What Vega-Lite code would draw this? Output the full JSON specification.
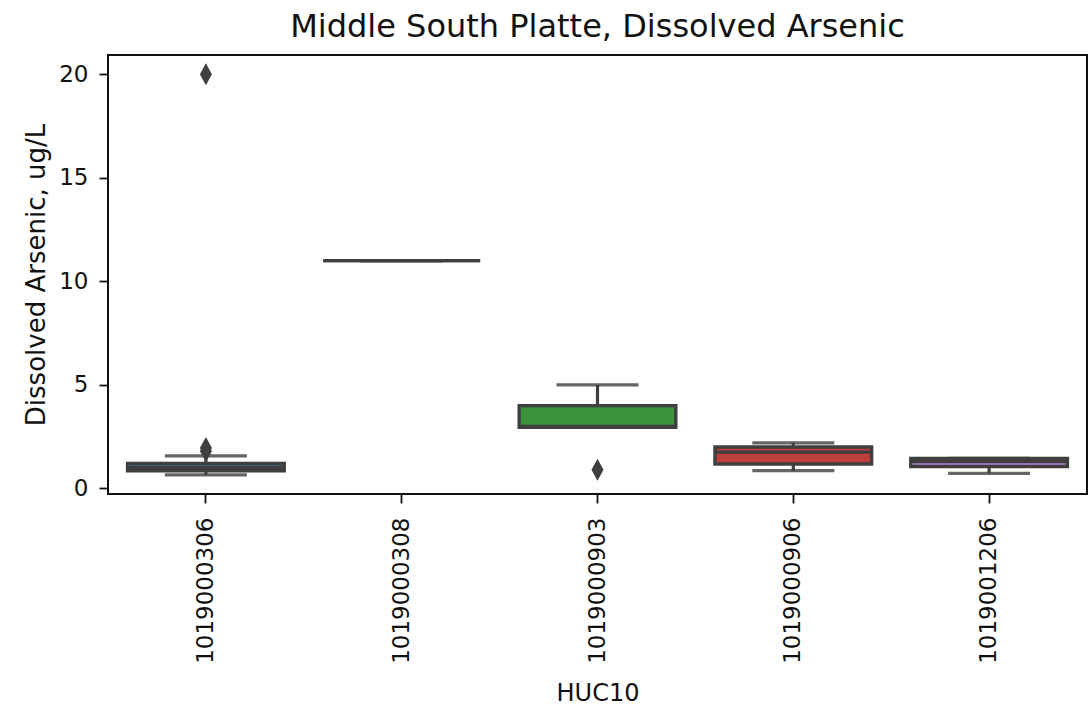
{
  "$schema": "https://vega.github.io/schema/vega-lite/v6.json",
  "autosize": {"type": "none"},
  "width": 979,
  "height": 439,
  "padding": {"left": 108, "top": 55, "right": 1, "bottom": 229},
  "background": "white",
  "config": {
    "font": "DejaVu Sans",
    "view": {"stroke": "#111111", "strokeWidth": 2},
    "axis": {"grid": false, "domain": false, "tickColor": "#111111", "tickWidth": 1.8, "labelColor": "#111111", "titleColor": "#111111", "labelFont": "DejaVu Sans", "titleFont": "DejaVu Sans", "titleFontWeight": "normal"}
  },
  "title": {"text": "Middle South Platte, Dissolved Arsenic", "fontSize": 32, "fontWeight": "normal", "font": "DejaVu Sans", "color": "#111111", "offset": 11, "anchor": "middle"},
  "datasets": {
    "stats": [
      {"HUC10": "1019000306", "lower": 0.65, "q1": 0.85, "median": 1.0, "q3": 1.2, "upper": 1.57},
      {"HUC10": "1019000308", "lower": 11.0, "q1": 11.0, "median": 11.0, "q3": 11.0, "upper": 11.0},
      {"HUC10": "1019000903", "lower": 2.95, "q1": 2.95, "median": 3.0, "q3": 4.0, "upper": 5.0},
      {"HUC10": "1019000906", "lower": 0.86, "q1": 1.18, "median": 1.75, "q3": 2.0, "upper": 2.2},
      {"HUC10": "1019001206", "lower": 0.73, "q1": 1.05, "median": 1.3, "q3": 1.45, "upper": 1.45}
    ],
    "outliers": [
      {"HUC10": "1019000306", "value": 20.0},
      {"HUC10": "1019000306", "value": 1.8},
      {"HUC10": "1019000306", "value": 1.95},
      {"HUC10": "1019000903", "value": 0.9}
    ]
  },
  "encoding": {
    "x": {"field": "HUC10", "type": "nominal", "sort": ["1019000306", "1019000308", "1019000903", "1019000906", "1019001206"],
      "scale": {"type": "band", "paddingInner": 0, "paddingOuter": 0},
      "axis": {"title": "HUC10", "titleFontSize": 24, "labelFontSize": 23, "labelAngle": 270, "tickSize": 9, "labelPadding": 14, "titlePadding": 18}}
  },
  "layer": [
    {
      "data": {"name": "stats"},
      "mark": {"type": "rule", "color": "#3f3f3f", "strokeWidth": 3.2},
      "encoding": {
        "y": {"field": "lower", "type": "quantitative", "scale": {"domain": [-0.27, 20.93], "nice": false, "zero": false},
          "axis": {"title": "Dissolved Arsenic, ug/L", "titleFontSize": 26, "labelFontSize": 23, "values": [0, 5, 10, 15, 20], "tickSize": 9, "labelPadding": 11, "titlePadding": 9}},
        "y2": {"field": "upper"}
      }
    },
    {
      "data": {"name": "stats"},
      "mark": {"type": "tick", "color": "#3f3f3f", "thickness": 3.2, "size": 82, "opacity": 0.8},
      "encoding": {"y": {"field": "lower", "type": "quantitative"}}
    },
    {
      "data": {"name": "stats"},
      "mark": {"type": "tick", "color": "#3f3f3f", "thickness": 3.2, "size": 82, "opacity": 0.8},
      "encoding": {"y": {"field": "upper", "type": "quantitative"}}
    },
    {
      "data": {"name": "stats"},
      "mark": {"type": "bar", "width": {"band": 0.8}, "stroke": "#3f3f3f", "strokeWidth": 3.4},
      "encoding": {
        "y": {"field": "q1", "type": "quantitative"},
        "y2": {"field": "q3"},
        "color": {"field": "HUC10", "type": "nominal", "legend": null,
          "scale": {"domain": ["1019000306", "1019000308", "1019000903", "1019000906", "1019001206"], "range": ["#3274a1", "#e1812c", "#3a923a", "#c03d3e", "#9372b2"]}}
      }
    },
    {
      "data": {"name": "stats"},
      "mark": {"type": "tick", "color": "#3f3f3f", "thickness": 3.2, "size": 157, "opacity": 1},
      "encoding": {"y": {"field": "median", "type": "quantitative"}}
    },
    {
      "data": {"name": "outliers"},
      "mark": {"type": "point", "shape": "M0,-1L0.55,0L0,1L-0.55,0Z", "filled": true, "size": 480, "color": "#3f3f3f", "opacity": 1},
      "encoding": {"y": {"field": "value", "type": "quantitative"}}
    }
  ]
}
